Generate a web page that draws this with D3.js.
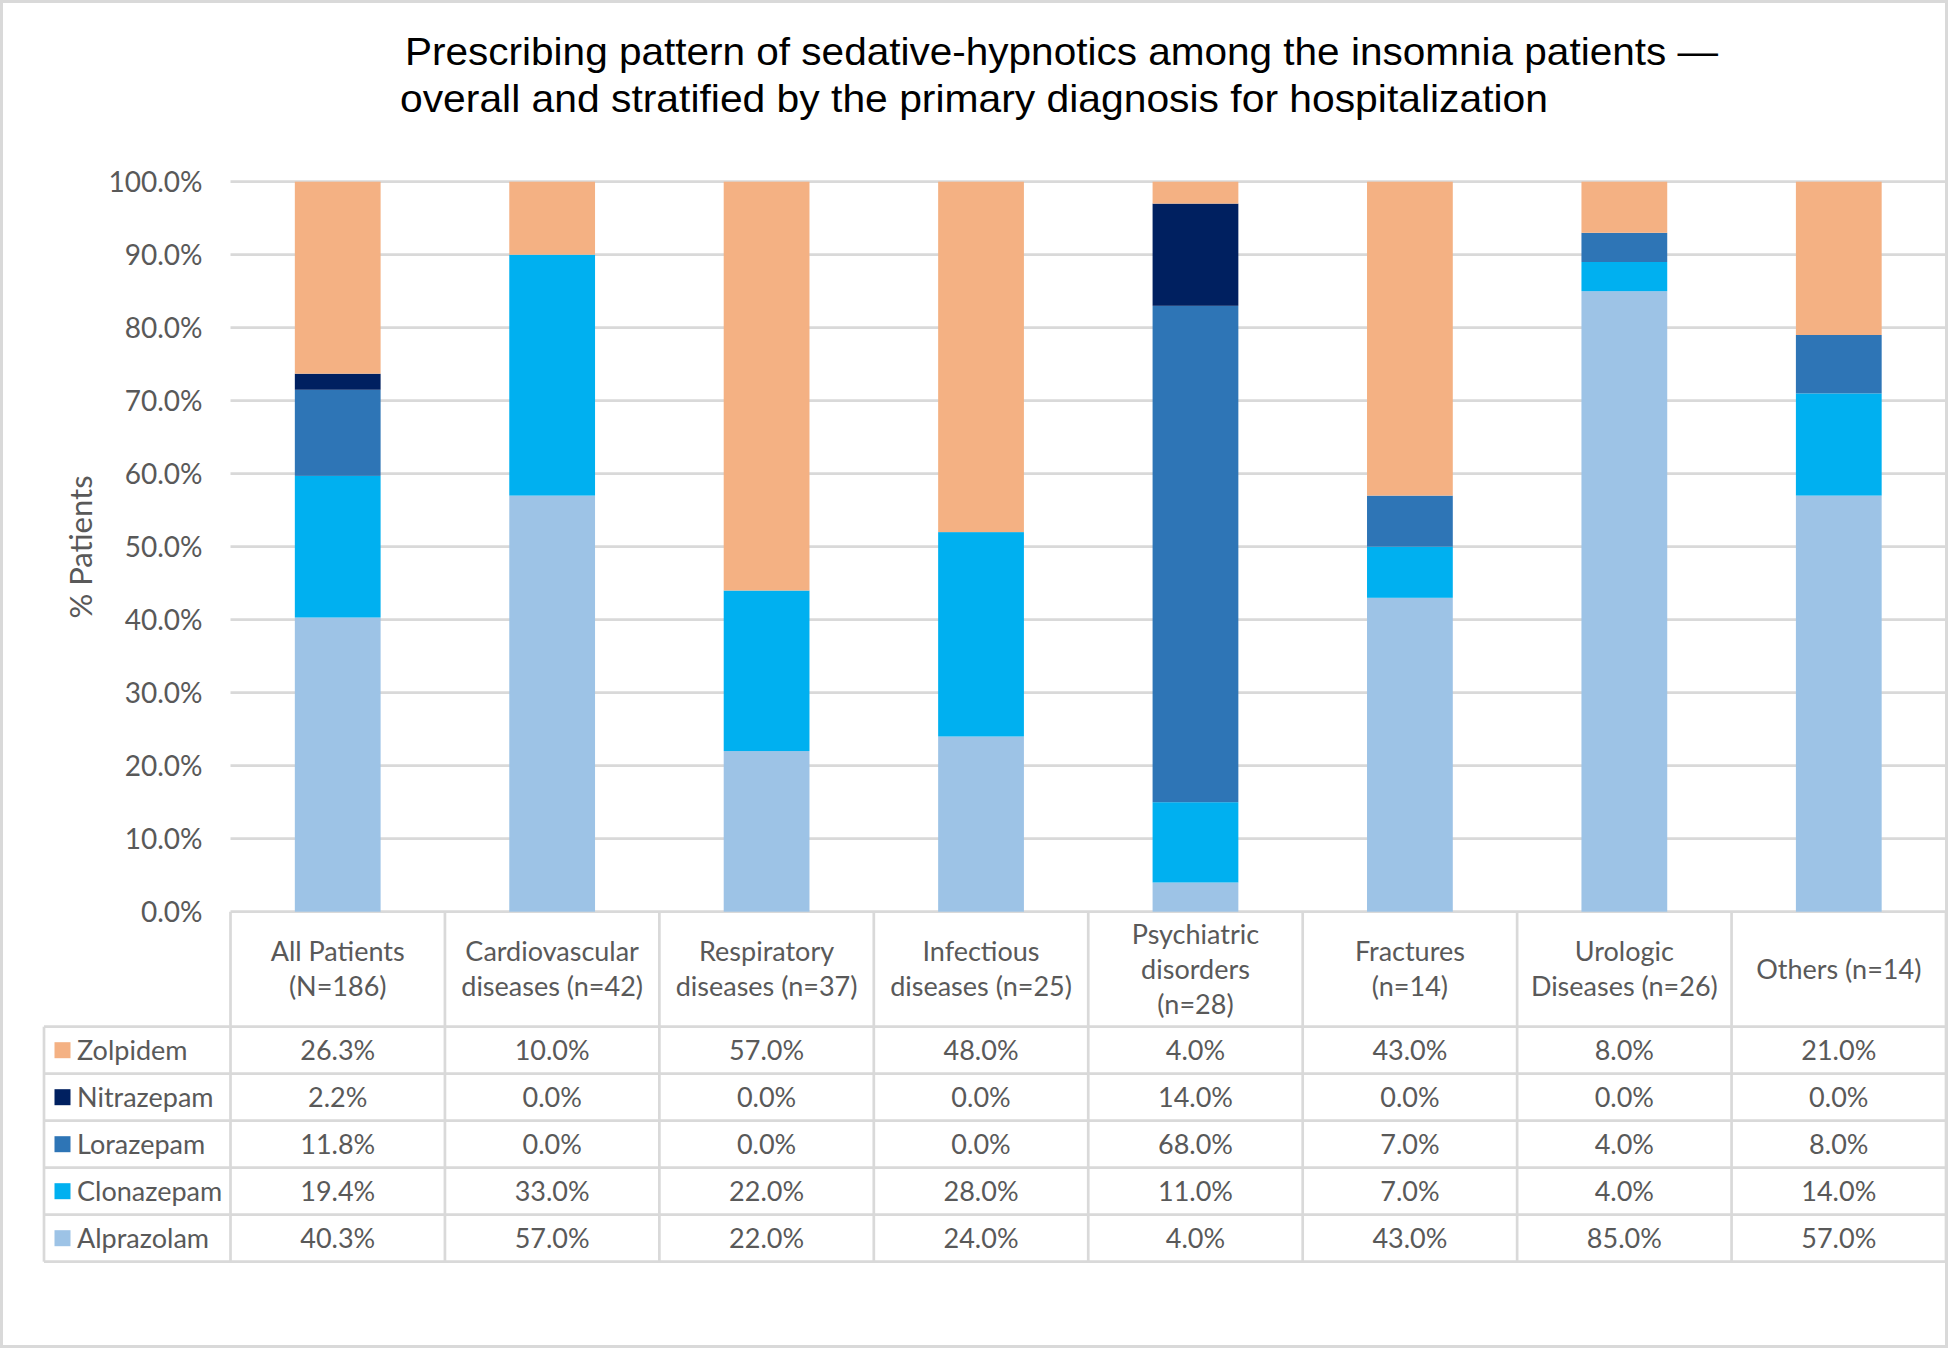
<!DOCTYPE html>
<html>
<head>
<meta charset="utf-8">
<script src="https://cdn.jsdelivr.net/npm/d3@7/dist/d3.min.js"></script>
<style>
  html, body { margin: 0; padding: 0; background: #fff; }
  svg { display: block; }
</style>
</head>
<body>
<svg id="chart" width="1948" height="1348"></svg>
<script>
// ---------------- DATA ----------------
const categories = ["All Patients", "Cardiovascular", "Respiratory", "Infectious", "Psychiatric", "Fractures", "Urologic", "Others"];
const categoryLabels = [
  ["All Patients", "(N=186)"],
  ["Cardiovascular", "diseases (n=42)"],
  ["Respiratory", "diseases (n=37)"],
  ["Infectious", "diseases (n=25)"],
  ["Psychiatric", "disorders", "(n=28)"],
  ["Fractures", "(n=14)"],
  ["Urologic", "Diseases (n=26)"],
  ["Others (n=14)"]
];
const seriesNames = ["Zolpidem", "Nitrazepam", "Lorazepam", "Clonazepam", "Alprazolam"]; // table order (top to bottom)
const zolpidem   = [26.3, 10.0, 57.0, 48.0, 4.0, 43.0, 8.0, 21.0];
const nitrazepam = [2.2, 0.0, 0.0, 0.0, 14.0, 0.0, 0.0, 0.0];
const lorazepam  = [11.8, 0.0, 0.0, 0.0, 68.0, 7.0, 4.0, 8.0];
const clonazepam = [19.4, 33.0, 22.0, 28.0, 11.0, 7.0, 4.0, 14.0];
const alprazolam = [40.3, 57.0, 22.0, 24.0, 4.0, 43.0, 85.0, 57.0];
const yTicks = [0, 10, 20, 30, 40, 50, 60, 70, 80, 90, 100];
const titleLines = [
  "Prescribing pattern of sedative-hypnotics among the insomnia patients \u2014",
  "overall and stratified by the primary diagnosis for hospitalization"
];
const yAxisTitle = "% Patients";

// ---------------- STYLE ----------------
const colors = {
  Zolpidem: "#F4B183",
  Nitrazepam: "#002060",
  Lorazepam: "#2E75B6",
  Clonazepam: "#00B0F0",
  Alprazolam: "#9DC3E6"
};
const textColor = "#595959";
const lineColor = "#d9d9d9";
const font = "Lato, 'Open Sans', sans-serif";
const fs = 27;

const valuesBySeries = {
  Zolpidem: zolpidem, Nitrazepam: nitrazepam, Lorazepam: lorazepam,
  Clonazepam: clonazepam, Alprazolam: alprazolam
};
const stackKeys = ["Alprazolam", "Clonazepam", "Lorazepam", "Nitrazepam", "Zolpidem"]; // bottom to top

const rows = categories.map((c, i) => {
  const r = { category: c };
  seriesNames.forEach(s => r[s] = valuesBySeries[s][i]);
  return r;
});

// ---------------- LAYOUT ----------------
const svg = d3.select("#chart");
const plotLeft = 230.5, plotRight = 1946;
const yTop = 181.7, yBottom = 911.7;
const tableLeft = 44;
const headerBottom = 1026.7;
const rowH = 47;

const x = d3.scaleBand().domain(categories).range([plotLeft, plotRight]).paddingInner(0).paddingOuter(0);
const y = d3.scaleLinear().domain([0, 100]).range([yBottom, yTop]).clamp(true);
const barW = x.bandwidth() * 0.4;

// outer border
svg.append("rect")
  .attr("x", 1.5).attr("y", 1.5).attr("width", 1945).attr("height", 1345)
  .attr("fill", "#fff").attr("stroke", lineColor).attr("stroke-width", 3);

// title
svg.append("g").selectAll("text").data(titleLines).join("text")
  .attr("x", (d, i) => i === 0 ? 405 : 400)
  .attr("y", (d, i) => i === 0 ? 65 : 111.5)
  .attr("textLength", (d, i) => i === 0 ? 1313 : 1148)
  .attr("lengthAdjust", "spacingAndGlyphs")
  .attr("font-family", "'Liberation Sans', Arial, sans-serif")
  .attr("font-size", 39)
  .attr("fill", "#000")
  .text(d => d);

// gridlines
svg.append("g").selectAll("line").data(yTicks).join("line")
  .attr("x1", plotLeft).attr("x2", plotRight)
  .attr("y1", d => y(d)).attr("y2", d => y(d))
  .attr("stroke", lineColor).attr("stroke-width", 2.7);

// y axis
const yAxis = d3.axisLeft(y).tickValues(yTicks).tickFormat(d => d.toFixed(1) + "%").tickSize(0).tickPadding(28);
const gy = svg.append("g").attr("transform", `translate(${plotLeft},0)`).call(yAxis);
gy.select(".domain").remove();
gy.selectAll("text")
  .attr("font-family", font).attr("font-size", 28).attr("fill", textColor)
  .attr("dy", "0.35em");

// y axis title
svg.append("text")
  .attr("transform", `translate(81,547) rotate(-90)`)
  .attr("text-anchor", "middle").attr("dy", "0.35em")
  .attr("font-family", font).attr("font-size", 31).attr("fill", textColor)
  .text(yAxisTitle);

// stacked bars
const stacked = d3.stack().keys(stackKeys)(rows);
svg.append("g").selectAll("g").data(stacked).join("g")
  .attr("fill", d => colors[d.key])
  .selectAll("rect").data(d => d).join("rect")
  .attr("x", d => x(d.data.category) + (x.bandwidth() - barW) / 2)
  .attr("width", barW)
  .attr("y", d => y(d[1]))
  .attr("height", d => Math.max(0, y(d[0]) - y(d[1])));

// ---------------- TABLE ----------------
const tableBottom = headerBottom + rowH * seriesNames.length;
const tg = svg.append("g");

// header text
categoryLabels.forEach((lines, i) => {
  const cx = x(categories[i]) + x.bandwidth() / 2;
  const cy = (yBottom + headerBottom) / 2;
  const lh = 35;
  lines.forEach((ln, j) => {
    tg.append("text")
      .attr("x", cx)
      .attr("y", cy + (j - (lines.length - 1) / 2) * lh)
      .attr("dy", "0.35em")
      .attr("text-anchor", "middle")
      .attr("font-family", font).attr("font-size", fs).attr("fill", textColor)
      .text(ln);
  });
});

// data rows
seriesNames.forEach((s, r) => {
  const cy = headerBottom + rowH * r + rowH / 2;
  tg.append("rect")
    .attr("x", 54.5).attr("y", cy - 8).attr("width", 16).attr("height", 16)
    .attr("fill", colors[s]);
  tg.append("text")
    .attr("x", 77).attr("y", cy).attr("dy", "0.35em")
    .attr("font-family", font).attr("font-size", fs).attr("fill", textColor)
    .text(s);
  valuesBySeries[s].forEach((v, i) => {
    tg.append("text")
      .attr("x", x(categories[i]) + x.bandwidth() / 2)
      .attr("y", cy).attr("dy", "0.35em")
      .attr("text-anchor", "middle")
      .attr("font-family", font).attr("font-size", fs).attr("fill", textColor)
      .text(v.toFixed(1) + "%");
  });
});

// table grid lines
const hLines = d3.range(seriesNames.length + 1).map(k => headerBottom + rowH * k);
tg.selectAll("line.h").data(hLines).join("line")
  .attr("class", "h")
  .attr("x1", tableLeft).attr("x2", plotRight)
  .attr("y1", d => d).attr("y2", d => d)
  .attr("stroke", lineColor).attr("stroke-width", 2.7);
const vLines = categories.map(c => x(c)).concat([plotRight]);
tg.selectAll("line.v").data(vLines).join("line")
  .attr("class", "v")
  .attr("x1", d => d).attr("x2", d => d)
  .attr("y1", yBottom).attr("y2", tableBottom)
  .attr("stroke", lineColor).attr("stroke-width", 2.7);
tg.append("line")
  .attr("x1", tableLeft).attr("x2", tableLeft)
  .attr("y1", headerBottom).attr("y2", tableBottom)
  .attr("stroke", lineColor).attr("stroke-width", 2.7);
</script>
</body>
</html>
